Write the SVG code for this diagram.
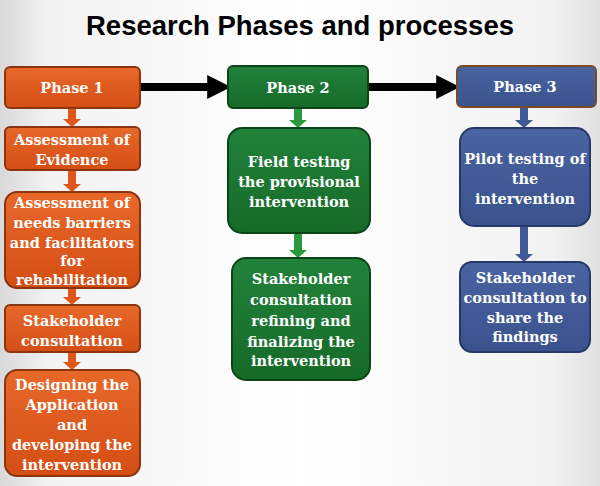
<svg xmlns="http://www.w3.org/2000/svg" width="600" height="486" viewBox="0 0 600 486">
<defs>
<linearGradient id="bg" x1="0" y1="0" x2="1" y2="0">
<stop offset="0" stop-color="#d9d9d9"/><stop offset="0.08" stop-color="#f2f2f2"/><stop offset="0.5" stop-color="#ffffff"/><stop offset="0.92" stop-color="#f2f2f2"/><stop offset="1" stop-color="#e0e0e0"/>
</linearGradient>
<linearGradient id="gO" x1="0" y1="0" x2="0" y2="1"><stop offset="0" stop-color="#e8682a"/><stop offset="1" stop-color="#d44e14"/></linearGradient>
<linearGradient id="gG" x1="0" y1="0" x2="0" y2="1"><stop offset="0" stop-color="#21823a"/><stop offset="1" stop-color="#166a28"/></linearGradient>
<linearGradient id="gB" x1="0" y1="0" x2="0" y2="1"><stop offset="0" stop-color="#4a64a2"/><stop offset="1" stop-color="#3a528c"/></linearGradient>
<marker id="ah" markerWidth="3" markerHeight="3" refX="1.6" refY="1.5" orient="auto" markerUnits="strokeWidth" viewBox="0 0 3 3"><path d="M0,0 L3,1.5 L0,3 z" fill="#000"/></marker>
</defs>
<style>
.o{fill:url(#gO);stroke:#8a3510;stroke-width:2}
.g{fill:url(#gG);stroke:#0c4418;stroke-width:2}
.b{fill:url(#gB);stroke:#27386a;stroke-width:2}
.bp{fill:url(#gB);stroke:#7a4a24;stroke-width:2}
.t{font-family:"DejaVu Serif","Liberation Serif",serif;font-weight:bold;font-size:14.5px;fill:#fff;text-anchor:middle}
.title{font-family:"Liberation Sans",Arial,sans-serif;font-weight:bold;font-size:27.5px;fill:#000;text-anchor:middle}
.ao{fill:#e0571a}
.ag{fill:#2a9a3c}
.ab{fill:#3f5896}
</style>
<rect width="600" height="486" fill="url(#bg)"/>
<text class="title" x="300" y="35">Research Phases and processes</text>
<g id="connectors">
<line x1="140" y1="87" x2="220" y2="87" stroke="#000" stroke-width="8" marker-end="url(#ah)"/>
<line x1="368" y1="87" x2="449" y2="87" stroke="#000" stroke-width="8" marker-end="url(#ah)"/>
<path class="ao" d="M68,108 h8 v11 h5 l-9,8 l-9,-8 h5 z"/>
<path class="ao" d="M68,170 h8 v14 h5 l-9,8 l-9,-8 h5 z"/>
<path class="ao" d="M68,288 h8 v9 h5 l-9,8 l-9,-8 h5 z"/>
<path class="ao" d="M68,352 h8 v10 h5 l-9,8 l-9,-8 h5 z"/>
<path class="ag" d="M294,108 h8 v12 h5 l-9,8 l-9,-8 h5 z"/>
<path class="ag" d="M294,233 h8 v17 h5 l-9,8 l-9,-8 h5 z"/>
<path class="ab" d="M520,107 h8 v13 h5 l-9,8 l-9,-8 h5 z"/>
<path class="ab" d="M520,226 h8 v28 h5 l-9,8 l-9,-8 h5 z"/>
</g>
<g id="phase1"><rect class="o" x="5" y="67" width="135" height="41" rx="5"/><text class="t" x="72" y="93">Phase 1</text></g>
<g id="evidence"><rect class="o" x="5" y="127" width="135" height="43" rx="5"/><text class="t" x="72" y="145">Assessment of</text><text class="t" x="72" y="165">Evidence</text></g>
<g id="needs"><rect class="o" x="5" y="192" width="135" height="96" rx="12"/><text class="t" x="72" y="208">Assessment of</text><text class="t" x="72" y="228">needs barriers</text><text class="t" x="72" y="248">and facilitators</text><text class="t" x="72" y="266">for</text><text class="t" x="72" y="285">rehabilitation</text></g>
<g id="stake1"><rect class="o" x="5" y="305" width="135" height="47" rx="5"/><text class="t" x="72" y="326">Stakeholder</text><text class="t" x="72" y="346">consultation</text></g>
<g id="design"><rect class="o" x="5" y="370" width="135" height="106" rx="12"/><text class="t" x="72" y="390">Designing the</text><text class="t" x="72" y="410">Application</text><text class="t" x="72" y="430">and</text><text class="t" x="72" y="450">developing the</text><text class="t" x="72" y="470">intervention</text></g>
<g id="phase2"><rect class="g" x="228" y="66" width="140" height="42" rx="5"/><text class="t" x="298" y="93">Phase 2</text></g>
<g id="field"><rect class="g" x="228" y="128" width="142" height="105" rx="14"/><text class="t" x="299" y="167">Field testing</text><text class="t" x="299" y="187">the provisional</text><text class="t" x="299" y="207">intervention</text></g>
<g id="stake2"><rect class="g" x="232" y="258" width="138" height="122" rx="14"/><text class="t" x="301" y="284">Stakeholder</text><text class="t" x="301" y="305">consultation</text><text class="t" x="301" y="326">refining and</text><text class="t" x="301" y="347">finalizing the</text><text class="t" x="301" y="366">intervention</text></g>
<g id="phase3"><rect class="bp" x="457" y="66" width="139" height="41" rx="5"/><text class="t" x="525" y="92">Phase 3</text></g>
<g id="pilot"><rect class="b" x="460" y="128" width="130" height="98" rx="14"/><text class="t" x="525" y="164">Pilot testing of</text><text class="t" x="525" y="184">the</text><text class="t" x="525" y="204">intervention</text></g>
<g id="stake3"><rect class="b" x="460" y="262" width="130" height="90" rx="12"/><text class="t" x="525" y="283">Stakeholder</text><text class="t" x="525" y="303">consultation to</text><text class="t" x="525" y="323">share the</text><text class="t" x="525" y="342">findings</text></g>
</svg>
